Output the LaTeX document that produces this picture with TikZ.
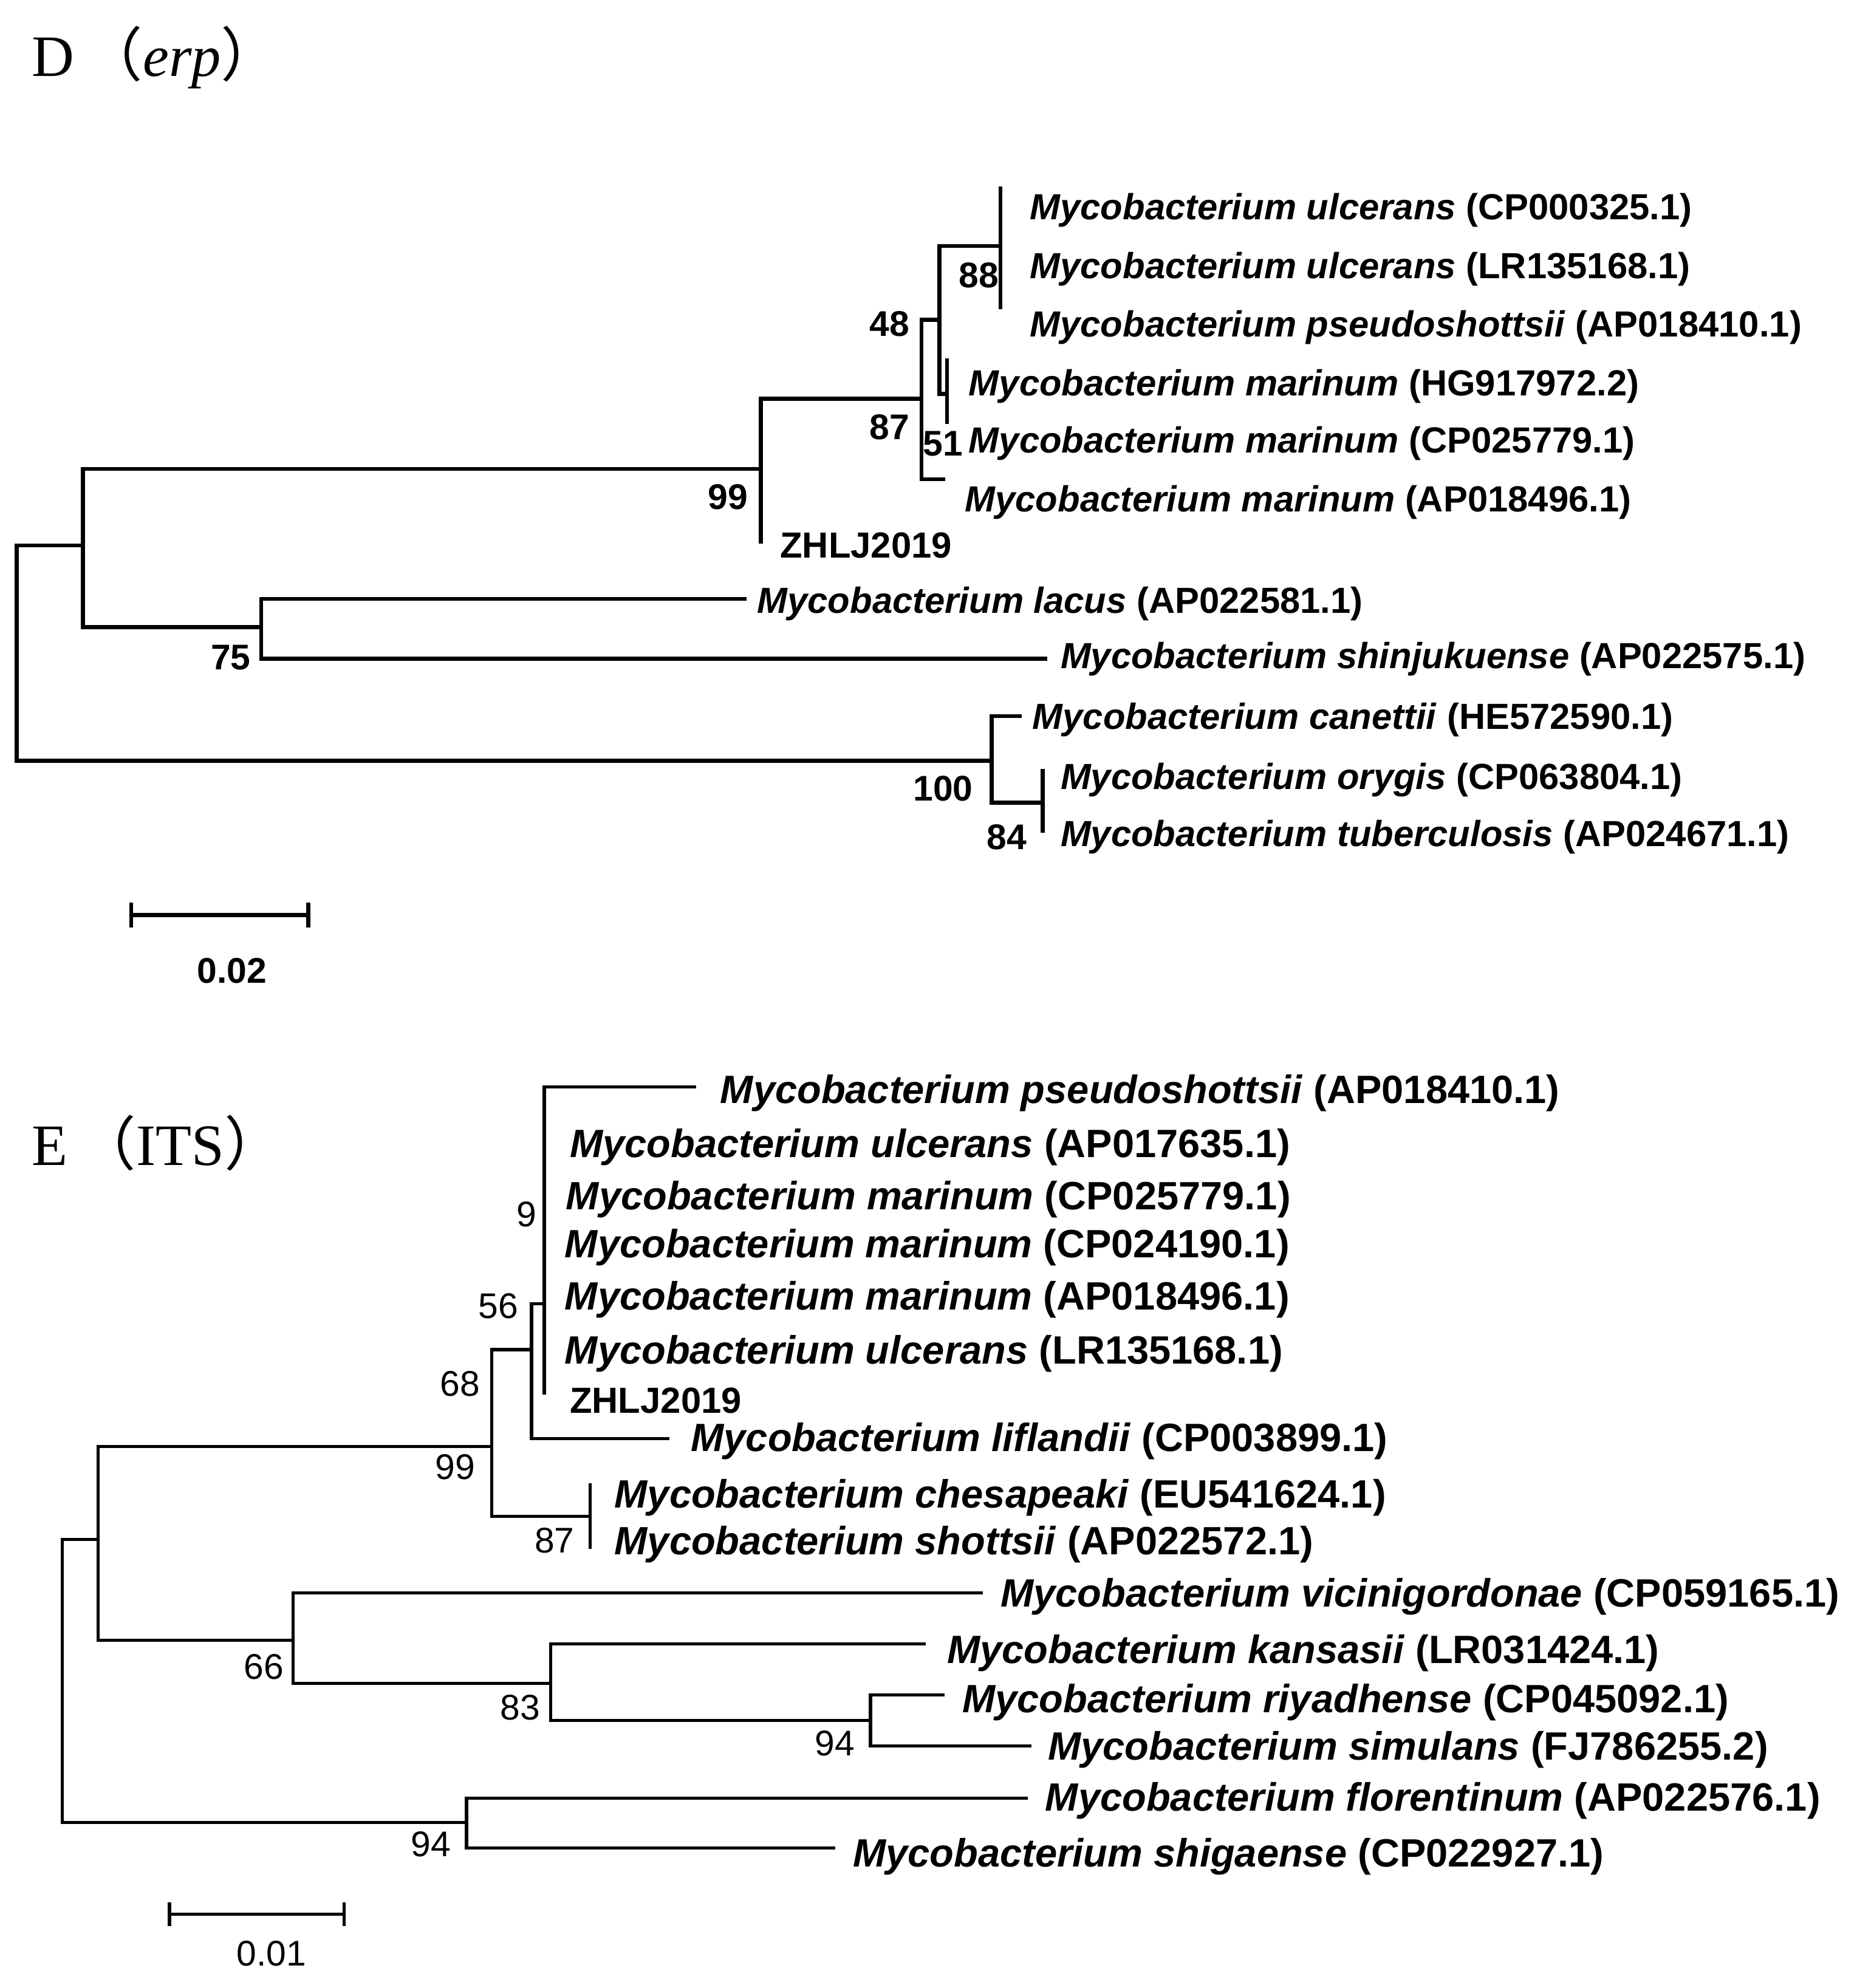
\documentclass[tikz,border=0pt]{standalone}
\usepackage{fontspec}
\setmainfont{Liberation Sans}
\newfontfamily\ttl{Liberation Serif}
\newfontfamily\cjk{Noto Sans CJK SC}
\begin{document}
\begin{tikzpicture}[x=1pt,y=-1pt,
  br/.style={line width=3.2pt,line cap=rect},
  bre/.style={line width=2.5pt,line cap=rect},
  lf/.style={anchor=west,inner sep=0pt,font=\fontsize{28.5}{32}\selectfont\bfseries},
  lfe/.style={anchor=west,inner sep=0pt,font=\fontsize{31}{36}\selectfont\bfseries},
  bs/.style={inner sep=0pt,font=\fontsize{28}{32}\selectfont\bfseries},
  bse/.style={inner sep=0pt,font=\fontsize{28}{32}\selectfont},
  tt/.style={anchor=west,inner sep=0pt,font=\fontsize{46}{52}\selectfont\ttl}]
\useasboundingbox (0,0) rectangle (1470,1560);
% ---------- D ----------
\node[tt] (tD) at (25,45) {D\,{\cjk（}\textit{erp}{\cjk）}};
\draw[br] (13,428) -- (13,597);
\draw[br] (13,428) -- (65,428);
\draw[br] (65,368) -- (65,492);
\draw[br] (65,368) -- (597,368);
\draw[br] (597,313) -- (597,425);
\draw[br] (597,313) -- (723,313);
\draw[br] (723,251) -- (723,376) -- (740,376);
\draw[br] (723,251) -- (737,251);
\draw[br] (737,193) -- (737,309) -- (743,309);
\draw[br] (737,193) -- (785,193);
\draw[br] (785,148) -- (785,241);
\draw[br] (743,283) -- (743,331);
\draw[br] (65,492) -- (205,492);
\draw[br] (205,470) -- (205,517) -- (820,517);
\draw[br] (205,470) -- (584,470);
\draw[br] (13,597) -- (778,597);
\draw[br] (778,562) -- (778,630) -- (818,630);
\draw[br] (778,562) -- (800,562);
\draw[br] (818,605) -- (818,652);
\node[lf] (d1) at (808,165) {\textit{Mycobacterium ulcerans} (CP000325.1)};
\node[lf] (d2) at (808,211) {\textit{Mycobacterium ulcerans} (LR135168.1)};
\node[lf] (d3) at (808,257) {\textit{Mycobacterium pseudoshottsii} (AP018410.1)};
\node[lf] (d4) at (760,303) {\textit{Mycobacterium marinum} (HG917972.2)};
\node[lf] (d5) at (760,348) {\textit{Mycobacterium marinum} (CP025779.1)};
\node[lf] (d6) at (757,394) {\textit{Mycobacterium marinum} (AP018496.1)};
\node[lf] (d7) at (612,428) {ZHLJ2019};
\node[lf] (d8) at (594,474) {\textit{Mycobacterium lacus} (AP022581.1)};
\node[lf] (d9) at (832,517) {\textit{Mycobacterium shinjukuense} (AP022575.1)};
\node[lf] (d10) at (810,565) {\textit{Mycobacterium canettii} (HE572590.1)};
\node[lf] (d11) at (832,612) {\textit{Mycobacterium orygis} (CP063804.1)};
\node[lf] (d12) at (832,657) {\textit{Mycobacterium tuberculosis} (AP024671.1)};
\node[bs] (b1) at (698,254) {48};
\node[bs] (b2) at (768,216) {88};
\node[bs] (b3) at (698,335) {87};
\node[bs] (b4) at (740,348) {51};
\node[bs] (b5) at (571,390) {99};
\node[bs] (b6) at (181,516) {75};
\node[bs] (b7) at (740,619) {100};
\node[bs] (b8) at (790,657) {84};
\draw[br] (103,718) -- (242,718);
\draw[br] (103,710) -- (103,726);
\draw[br] (242,710) -- (242,726);
\node[bs] (sD) at (182,762) {0.02};
% ---------- E ----------
\node[tt] (tE) at (25,897) {E\,{\cjk（}ITS{\cjk）}};
\draw[bre] (49,1208) -- (49,1430);
\draw[bre] (49,1208) -- (77,1208);
\draw[bre] (77,1135) -- (77,1287);
\draw[bre] (77,1135) -- (386,1135);
\draw[bre] (386,1059) -- (386,1190) -- (463,1190);
\draw[bre] (386,1059) -- (417,1059);
\draw[bre] (417,1023) -- (417,1129) -- (524,1129);
\draw[bre] (417,1023) -- (427,1023);
\draw[bre] (427,853) -- (427,1093);
\draw[bre] (427,853) -- (545,853);
\draw[bre] (463,1165) -- (463,1214);
\draw[bre] (77,1287) -- (230,1287);
\draw[bre] (230,1250) -- (230,1321) -- (432,1321);
\draw[bre] (230,1250) -- (770,1250);
\draw[bre] (432,1290) -- (432,1350) -- (683,1350);
\draw[bre] (432,1290) -- (725,1290);
\draw[bre] (683,1330) -- (683,1370) -- (808,1370);
\draw[bre] (683,1330) -- (740,1330);
\draw[bre] (49,1430) -- (366,1430);
\draw[bre] (366,1411) -- (366,1450) -- (654,1450);
\draw[bre] (366,1411) -- (805,1411);
\node[lfe] (e1) at (565,858) {\textit{Mycobacterium pseudoshottsii} (AP018410.1)};
\node[lfe] (e2) at (447,900) {\textit{Mycobacterium ulcerans} (AP017635.1)};
\node[lfe] (e3) at (444,941) {\textit{Mycobacterium marinum} (CP025779.1)};
\node[lfe] (e4) at (443,979) {\textit{Mycobacterium marinum} (CP024190.1)};
\node[lfe] (e5) at (443,1020) {\textit{Mycobacterium marinum} (AP018496.1)};
\node[lfe] (e6) at (443,1062) {\textit{Mycobacterium ulcerans} (LR135168.1)};
\node[lf] (e7) at (447,1099) {ZHLJ2019};
\node[lfe] (e8) at (542,1131) {\textit{Mycobacterium liflandii} (CP003899.1)};
\node[lfe] (e9) at (482,1175) {\textit{Mycobacterium chesapeaki} (EU541624.1)};
\node[lfe] (e10) at (482,1212) {\textit{Mycobacterium shottsii} (AP022572.1)};
\node[lfe] (e11) at (785,1253) {\textit{Mycobacterium vicinigordonae} (CP059165.1)};
\node[lfe] (e12) at (743,1297) {\textit{Mycobacterium kansasii} (LR031424.1)};
\node[lfe] (e13) at (755,1336) {\textit{Mycobacterium riyadhense} (CP045092.1)};
\node[lfe] (e14) at (822,1373) {\textit{Mycobacterium simulans} (FJ786255.2)};
\node[lfe] (e15) at (820,1413) {\textit{Mycobacterium florentinum} (AP022576.1)};
\node[lfe] (e16) at (669,1457) {\textit{Mycobacterium shigaense} (CP022927.1)};
\node[bse] (c1) at (413,953) {9};
\node[bse] (c2) at (391,1025) {56};
\node[bse] (c3) at (361,1086) {68};
\node[bse] (c4) at (357,1151) {99};
\node[bse] (c5) at (435,1209) {87};
\node[bse] (c6) at (207,1308) {66};
\node[bse] (c7) at (408,1340) {83};
\node[bse] (c8) at (655,1368) {94};
\node[bse] (c9) at (338,1447) {94};
\draw[bre] (133,1502) -- (270,1502);
\draw[bre] (133,1494) -- (133,1510);
\draw[bre] (270,1494) -- (270,1510);
\node[bse] (sE) at (213,1533) {0.01};
\end{tikzpicture}
\end{document}
